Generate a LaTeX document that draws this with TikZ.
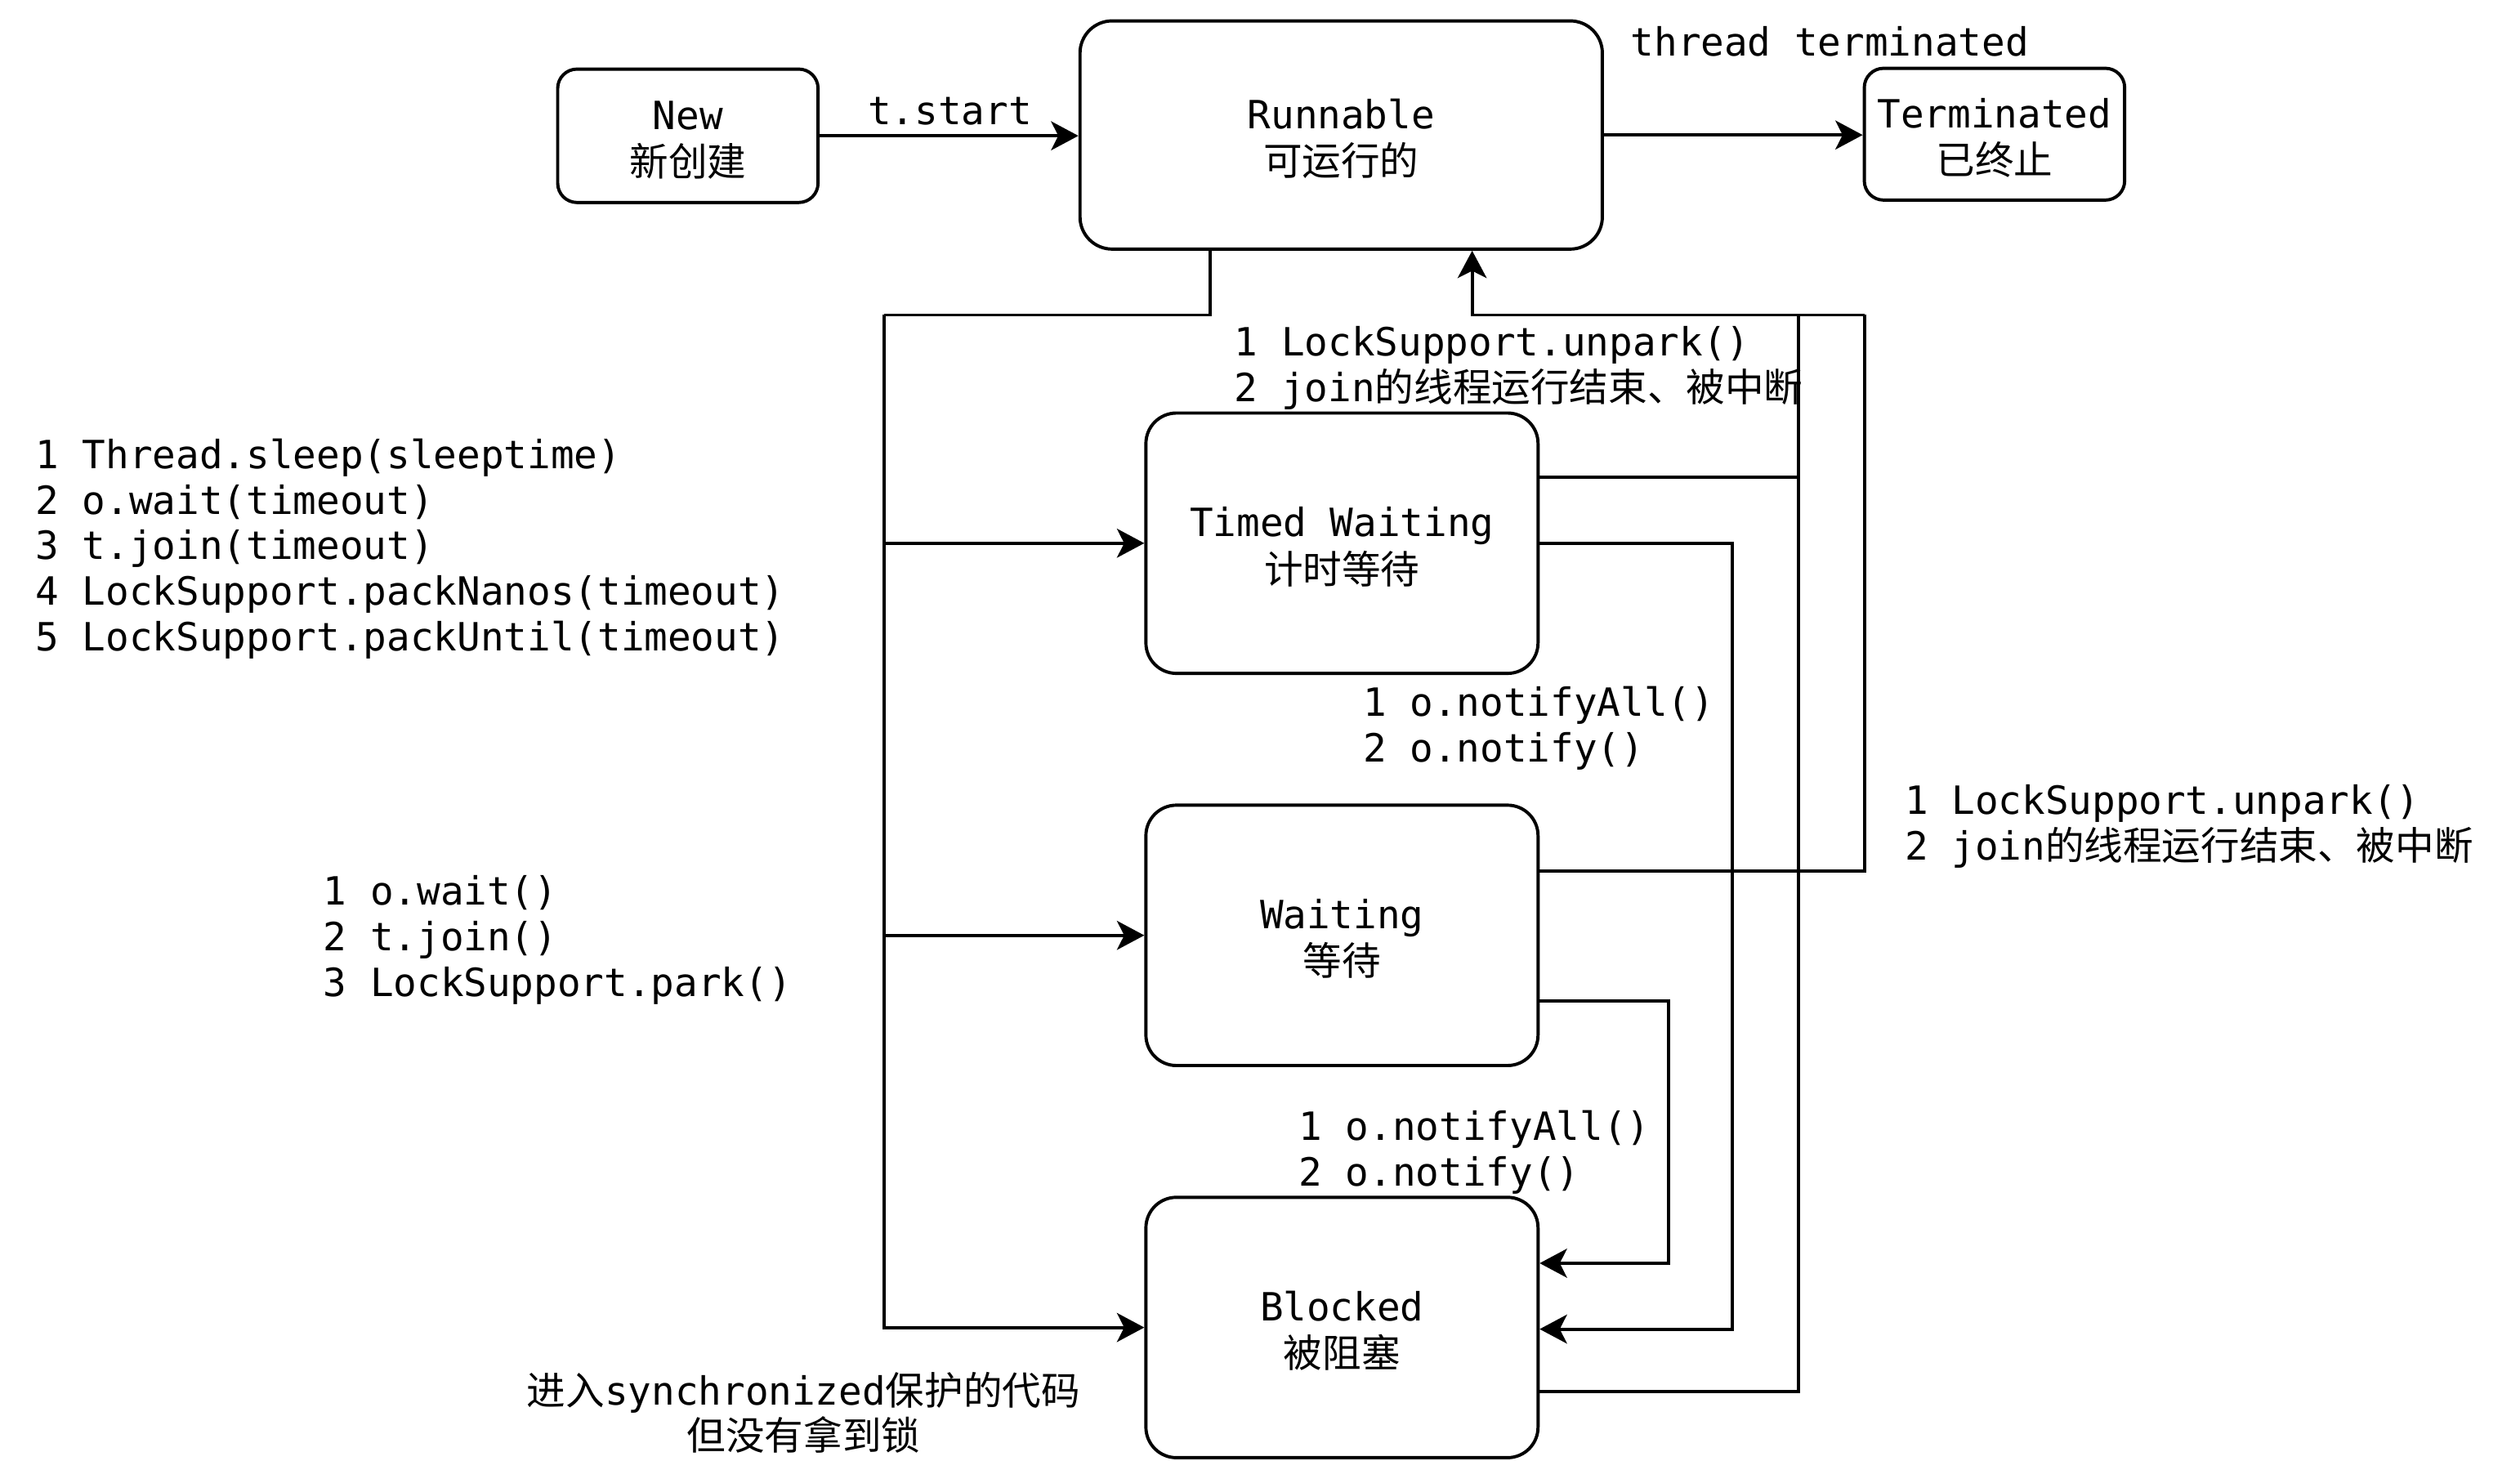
\documentclass[tikz,border=0pt]{standalone}
\usepackage{fontspec}
\setmainfont{DejaVu Sans Mono}
\newfontfamily\cjk{Noto Sans CJK SC}
\usetikzlibrary{arrows.meta}
\newcommand\zh[1]{{\cjk #1}}
\newcommand\bst{\rule{0pt}{23pt}}
\begin{document}
\begin{tikzpicture}[x=1pt,y=-1pt,
  every node/.style={font=\fontsize{24.2pt}{28.4pt}\selectfont, inner sep=0pt},
  stbox/.style={draw, line width=2pt, rounded corners=#1, align=center, fill=white,
    font=\fontsize{24.2pt}{29pt}\selectfont},
  conn/.style={line width=2pt},
  arr/.style={conn, -{Stealth[length=17pt,width=18pt,inset=4.5pt]}},
  lbl/.style={align=left, anchor=west}]
\useasboundingbox (0,0) rectangle (1568,909);
% states
\node[stbox=12pt, minimum width=162pt, minimum height=83pt] (new) at (428,84.5) {\bst New\\\zh{新创建}};
\node[stbox=20pt, minimum width=325pt, minimum height=142pt] (run) at (834.5,84) {\bst Runnable\\\zh{可运行的}};
\node[stbox=12pt, minimum width=162pt, minimum height=82pt] (term) at (1241,83.5) {\bst Terminated\\\zh{已终止}};
\node[stbox=19pt, minimum width=244pt, minimum height=162pt] (tw) at (835,338) {\bst Timed Waiting\\\zh{计时等待}};
\node[stbox=19pt, minimum width=244pt, minimum height=162pt] (wt) at (835,582) {\bst Waiting\\\zh{等待}};
\node[stbox=19pt, minimum width=244pt, minimum height=162pt] (blk) at (835,826) {\bst Blocked\\\zh{被阻塞}};
% coordinates
\coordinate (ja) at (753,196);
\coordinate (jb) at (550,196);
\coordinate (jr) at (916,196);
\coordinate (c1) at (1119,196);
\coordinate (c2) at (1160,196);
\coordinate (c3) at (1078,827);
\coordinate (c4) at (1038,786);
% connectors
\draw[arr] (new.east) -- (new.east -| run.west);
\draw[arr] (run.east) -- (run.east -| term.west);
\draw[conn] (run.south -| ja) -- (ja) -- (jb);
\draw[arr] (jb) |- (blk.west);
\draw[arr] (jb |- tw.west) -- (tw.west);
\draw[arr] (jb |- wt.west) -- (wt.west);
\draw[conn] ([yshift=-40pt]blk.east) -| (c1);
\draw[conn] ([yshift=41pt]tw.east) -| (c1);
\draw[conn] ([yshift=40pt]wt.east) -| (c2);
\draw[arr] (c2) -- (jr) -- (run.south -| jr);
\draw[arr] (tw.east) -| (c3) -- (c3 -| blk.east);
\draw[arr] ([yshift=-41pt]wt.east) -| (c4) -- (c4 -| blk.east);
% labels
\node (tstart) at (591,69) {t.start};
\node (tterm) at (1138.5,26) {thread terminated};
\node[lbl] (l1) at (768,229) {1 LockSupport.unpark()\\2 join\zh{的线程运行结束、被中断}};
\node[lbl] (l2) at (848,453) {1 o.notifyAll()\\2 o.notify()};
\node[lbl] (l3) at (1185,514) {1 LockSupport.unpark()\\2 join\zh{的线程运行结束、被中断}};
\node[lbl] (l4) at (808,717) {1 o.notifyAll()\\2 o.notify()};
\node[lbl] (l5) at (22,341.5) {1 Thread.sleep(sleeptime)\\2 o.wait(timeout)\\3 t.join(timeout)\\4 LockSupport.packNanos(timeout)\\5 LockSupport.packUntil(timeout)};
\node[lbl] (l6) at (201,585) {1 o.wait()\\2 t.join()\\3 LockSupport.park()};
\node[align=center] (l7) at (500,879) {\zh{进入}synchronized\zh{保护的代码}\\\zh{但没有拿到锁}};
\end{tikzpicture}
\end{document}
